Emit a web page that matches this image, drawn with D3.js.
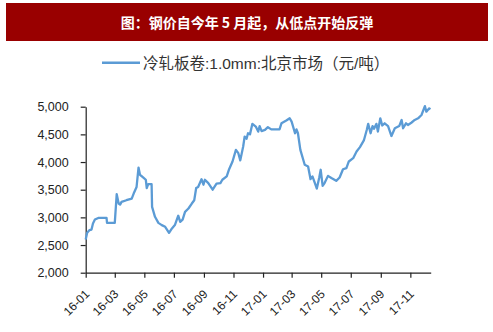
<!DOCTYPE html>
<html>
<head>
<meta charset="utf-8">
<script src="https://cdn.jsdelivr.net/npm/d3@7"></script>
<style>
  html, body { margin: 0; padding: 0; background: #fff; }
  svg { display: block; }
</style>
</head>
<body>
<svg id="chart" width="493" height="332"></svg>
<script>
const titleText = "图：钢价自今年 5 月起，从低点开始反弹";
const seriesName = "冷轧板卷:1.0mm:北京市场（元/吨）";

const dates = [
  "2016-01-01","2016-01-04","2016-01-09","2016-01-13","2016-01-16","2016-01-20","2016-01-27",
  "2016-02-13","2016-02-14","2016-03-01","2016-03-05","2016-03-09","2016-03-12","2016-03-15",
  "2016-03-25","2016-04-05","2016-04-09","2016-04-15","2016-04-19","2016-04-22","2016-04-29",
  "2016-05-04","2016-05-06","2016-05-09","2016-05-16","2016-05-17","2016-05-23","2016-05-30",
  "2016-06-06","2016-06-13","2016-06-21","2016-06-27","2016-07-03","2016-07-10","2016-07-14",
  "2016-07-19","2016-07-24","2016-07-31","2016-08-07","2016-08-12","2016-08-16","2016-08-20",
  "2016-08-27","2016-08-31","2016-09-03","2016-09-10","2016-09-19","2016-09-27","2016-10-05",
  "2016-10-09","2016-10-18","2016-10-23","2016-10-30","2016-11-06","2016-11-11","2016-11-15",
  "2016-11-21","2016-11-24","2016-11-28","2016-12-01","2016-12-05","2016-12-10","2016-12-17",
  "2016-12-22","2016-12-25","2016-12-29","2017-01-05","2017-01-11","2017-01-18","2017-02-04",
  "2017-02-08","2017-02-18","2017-02-25","2017-03-01","2017-03-08","2017-03-11","2017-03-14",
  "2017-03-19","2017-03-28","2017-04-04","2017-04-09","2017-04-13","2017-04-18","2017-04-22",
  "2017-04-27","2017-04-30","2017-05-04","2017-05-08","2017-05-15","2017-05-22","2017-06-01",
  "2017-06-08","2017-06-15","2017-06-22","2017-06-27","2017-07-06","2017-07-13","2017-07-20",
  "2017-07-28","2017-08-03","2017-08-06","2017-08-11","2017-08-15","2017-08-18","2017-08-23",
  "2017-08-26","2017-08-31","2017-09-04","2017-09-09","2017-09-16","2017-09-23","2017-09-30",
  "2017-10-09","2017-10-14","2017-10-17","2017-10-23","2017-10-27","2017-11-03","2017-11-10",
  "2017-11-17","2017-11-24","2017-12-01","2017-12-04","2017-12-10","2017-12-12"
];
const prices = [
  2600,2720,2770,2780,2890,2960,2990,
  2990,2900,2900,3420,3250,3230,3280,
  3310,3340,3430,3550,3900,3770,3720,
  3680,3530,3600,3600,3190,3010,2900,
  2860,2830,2720,2800,2860,3030,2920,
  2960,3100,3160,3250,3310,3530,3550,
  3690,3590,3680,3620,3500,3610,3620,
  3680,3740,3870,4010,4220,4160,4030,
  4280,4460,4420,4520,4500,4690,4640,
  4550,4650,4560,4580,4630,4590,4590,
  4700,4750,4790,4730,4520,4590,4520,
  4220,3950,3920,3690,3740,3620,3520,
  3720,3860,3570,3620,3750,3710,3660,
  3720,3870,3890,4010,4070,4190,4270,
  4390,4580,4690,4520,4650,4600,4690,
  4550,4790,4660,4700,4650,4470,4610,
  4650,4760,4610,4700,4670,4710,4760,
  4790,4850,5010,4910,4970,4950
];
const yTicks = [2000, 2500, 3000, 3500, 4000, 4500, 5000];
const xTickLabels = ["16-01","16-03","16-05","16-07","16-09","16-11","17-01","17-03","17-05","17-07","17-09","17-11"];

const parse = d3.timeParse("%Y-%m-%d");
const data = dates.map((d, i) => ({ date: parse(d), value: prices[i] }));
const xTickDates = xTickLabels.map(s => d3.timeParse("%y-%m")(s));

const svg = d3.select("#chart");

// Title bar
svg.append("rect")
  .attr("x", 6).attr("y", 3).attr("width", 482).attr("height", 38)
  .attr("fill", "#990000");
svg.append("text")
  .attr("x", 247).attr("y", 27.5)
  .attr("text-anchor", "middle")
  .attr("fill", "#fff")
  .attr("font-family", "'Noto Sans CJK SC', sans-serif")
  .attr("font-weight", "bold")
  .attr("font-size", 14)
  .text(titleText);

// Legend
svg.append("line")
  .attr("x1", 102).attr("x2", 140).attr("y1", 62.7).attr("y2", 62.7)
  .attr("stroke", "#5b9bd5").attr("stroke-width", 2.5);
svg.append("text")
  .attr("x", 143).attr("y", 68.5)
  .attr("fill", "#333")
  .attr("font-family", "'Liberation Sans', 'Noto Sans CJK SC', sans-serif")
  .attr("font-size", 15.5)
  .text(seriesName);

const x = d3.scaleTime()
  .domain([parse("2016-01-01"), parse("2017-12-13")])
  .range([85.7, 430.7]);
const y = d3.scaleLinear()
  .domain([2000, 5000])
  .range([272.7, 106.7]);

// Y axis
const yAxis = svg.append("g")
  .attr("transform", "translate(85.7,0)")
  .call(d3.axisLeft(y).tickValues(yTicks).tickFormat(d3.format(",")).tickSize(5).tickSizeOuter(0).tickPadding(12));
yAxis.selectAll("text")
  .attr("font-family", "'Liberation Sans', Arial, sans-serif")
  .attr("font-size", 12.5)
  .attr("fill", "#222");
yAxis.selectAll("line").attr("stroke", "#222").attr("stroke-width", 1.2);
yAxis.select(".domain").attr("stroke", "#222").attr("stroke-width", 1.2);

// X axis
const xAxis = svg.append("g")
  .attr("transform", "translate(0,272.7)")
  .call(d3.axisBottom(x).tickValues(xTickDates).tickFormat(d3.timeFormat("%y-%m")).tickSize(5).tickSizeOuter(0));
xAxis.selectAll("text")
  .attr("font-family", "'Liberation Sans', Arial, sans-serif")
  .attr("font-size", 12)
  .attr("fill", "#222")
  .attr("text-anchor", "end")
  .attr("x", 0).attr("y", 0).attr("dy", 0)
  .attr("transform", "translate(4,22) rotate(-45)");
xAxis.selectAll("line").attr("stroke", "#222").attr("stroke-width", 1.2);
xAxis.select(".domain").attr("stroke", "#222").attr("stroke-width", 1.2);

// Line
const line = d3.line()
  .x(d => x(d.date))
  .y(d => y(d.value));
svg.append("path")
  .datum(data)
  .attr("fill", "none")
  .attr("stroke", "#5b9bd5")
  .attr("stroke-width", 2.3)
  .attr("stroke-linejoin", "round")
  .attr("d", line);
</script>
</body>
</html>
